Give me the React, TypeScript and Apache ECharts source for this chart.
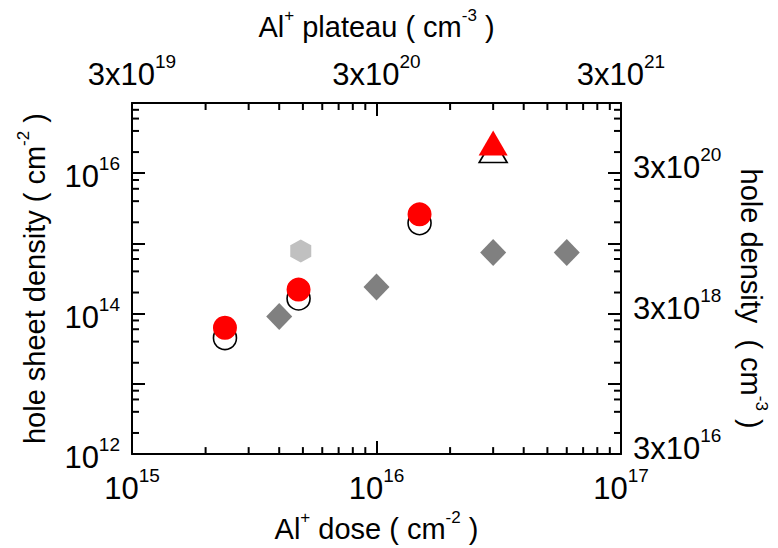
import React, { useEffect, useRef } from 'react';
import * as echarts from 'echarts';

const FONT = '"Liberation Sans", Arial, Helvetica, sans-serif';

// Axis ranges
const DOSE_MIN = 1e15;
const DOSE_MAX = 1e17;
const SHEET_MIN = 1e12;
const SHEET_MAX = 1e17;
// plateau (cm^-3) = dose (cm^-2) x 3x10^4 ; hole density = sheet density x 3x10^4
const CONVERSION = 3e4;

// Data
const openCircleDose = [2.4e15, 4.8e15, 1.5e16];
const openCircleSheet = [4.5e13, 1.65e14, 1.95e15];
const redCircleDose = [2.4e15, 4.8e15, 1.5e16];
const redCircleSheet = [6.3e13, 2.2e14, 2.6e15];
const openTriangleDose = [3e16];
const openTriangleSheet = [2.1e16];
const redTriangleDose = [3e16];
const redTriangleSheet = [2.7e16];
const diamondDose = [4e15, 1e16, 3e16, 6e16];
const diamondSheet = [9.1e13, 2.4e14, 7.4e14, 7.4e14];
const hexagonDose = [4.9e15];
const hexagonSheet = [7.8e14];

// Minor tick values
const xMinorTicks = [
  2e15, 3e15, 4e15, 5e15, 6e15, 7e15, 8e15, 9e15,
  2e16, 3e16, 4e16, 5e16, 6e16, 7e16, 8e16, 9e16,
];
const yMinorTicks = [
  2e12, 4e12, 6e12, 8e12,
  2e13, 4e13, 6e13, 8e13,
  2e14, 4e14, 6e14, 8e14,
  2e15, 4e15, 6e15, 8e15,
  2e16, 4e16, 6e16, 8e16,
];

const zip = (a: number[], b: number[]) => a.map((v, i) => [v, b[i]]);

const tickRich = {
  b: { fontFamily: FONT, fontSize: 31, color: '#000', lineHeight: 38, verticalAlign: 'bottom' },
  s: { fontFamily: FONT, fontSize: 19, color: '#000', lineHeight: 14, verticalAlign: 'top' },
};
const nameRich = {
  b: { fontFamily: FONT, fontSize: 29, color: '#000', lineHeight: 34, verticalAlign: 'bottom' },
  s: { fontFamily: FONT, fontSize: 17, color: '#000', lineHeight: 18, verticalAlign: 'top' },
};

const expOf = (v: number) => Math.floor(Math.log10(v) + 1e-9);

const powerLabel = (v: number) => `{b|10}{s|${expOf(v)}}`;
const convertedLabel = (v: number) => {
  const c = v * CONVERSION;
  const e = expOf(c);
  const m = Math.round(c / Math.pow(10, e));
  return `{b|${m}x10}{s|${e}}`;
};

const MAJOR_LEN = 13;
const MINOR_LEN = 7;
const LINE_W = 2;

export default function App() {
  const ref = useRef<HTMLDivElement>(null);

  useEffect(() => {
    if (!ref.current) return;
    const chart = echarts.init(ref.current, undefined, { renderer: 'svg' });

    const axisLine = { show: true, lineStyle: { color: '#000', width: LINE_W } };
    const axisTick = { show: true, inside: true, length: MAJOR_LEN, lineStyle: { color: '#000', width: LINE_W } };

    const scatterBase = { type: 'scatter', xAxisIndex: 0, yAxisIndex: 0, silent: true };

    const option: any = {
      animation: false,
      backgroundColor: '#fff',
      grid: { left: 132, right: 156, top: 103, bottom: 88, containLabel: false },
      xAxis: [
        {
          type: 'log',
          position: 'bottom',
          min: DOSE_MIN,
          max: DOSE_MAX,
          logBase: 10,
          axisLine,
          axisTick,
          splitLine: { show: false },
          minorTick: { show: false },
          axisLabel: {
            margin: 12,
            showMinLabel: true,
            showMaxLabel: true,
            formatter: (v: number) => powerLabel(v),
            rich: tickRich,
          },
          name: '{b|Al}{s|+}{b| dose ( cm}{s|-2}{b| )}',
          nameLocation: 'middle',
          nameGap: 48,
          nameTextStyle: { rich: nameRich },
        },
        {
          type: 'log',
          position: 'top',
          min: DOSE_MIN,
          max: DOSE_MAX,
          logBase: 10,
          axisLine,
          axisTick,
          splitLine: { show: false },
          axisLabel: {
            margin: 13,
            showMinLabel: true,
            showMaxLabel: true,
            formatter: (v: number) => convertedLabel(v),
            rich: tickRich,
          },
          name: '{b|Al}{s|+}{b| plateau ( cm}{s|-3}{b| )}',
          nameLocation: 'middle',
          nameGap: 62,
          nameTextStyle: { rich: nameRich },
        },
      ],
      yAxis: [
        {
          type: 'log',
          position: 'left',
          min: SHEET_MIN,
          max: SHEET_MAX,
          logBase: 10,
          axisLine,
          axisTick,
          splitLine: { show: false },
          axisLabel: {
            margin: 12,
            showMinLabel: true,
            showMaxLabel: true,
            formatter: (v: number) => (expOf(v) % 2 === 0 ? powerLabel(v) : ''),
            rich: tickRich,
          },
          name: '{b|hole sheet density ( cm}{s|-2}{b| )}',
          nameLocation: 'middle',
          nameRotate: 90,
          nameGap: 83,
          nameTextStyle: { rich: nameRich },
        },
        {
          type: 'log',
          position: 'right',
          min: SHEET_MIN,
          max: SHEET_MAX,
          logBase: 10,
          axisLine,
          axisTick,
          splitLine: { show: false },
          axisLabel: {
            margin: 12,
            showMinLabel: true,
            showMaxLabel: true,
            padding: [0, 0, 18, 0],
            formatter: (v: number) => (expOf(v) % 2 === 0 ? convertedLabel(v) : ''),
            rich: tickRich,
          },
          name: '{b|hole density  ( cm}{s|-3}{b| )}',
          nameLocation: 'middle',
          nameRotate: -90,
          nameGap: 115,
          nameTextStyle: { rich: nameRich, padding: [0, 0, 0, 40] },
        },
      ],
      series: [
        {
          type: 'custom',
          xAxisIndex: 0,
          yAxisIndex: 0,
          silent: true,
          clip: false,
          data: xMinorTicks.map((v) => [v, SHEET_MIN]),
          renderItem: (_p: any, api: any) => {
            const v = api.value(0);
            const b = api.coord([v, SHEET_MIN]);
            const t = api.coord([v, SHEET_MAX]);
            const st = { stroke: '#000', lineWidth: LINE_W };
            return {
              type: 'group',
              children: [
                { type: 'line', shape: { x1: b[0], y1: b[1], x2: b[0], y2: b[1] - MINOR_LEN }, style: st },
                { type: 'line', shape: { x1: t[0], y1: t[1], x2: t[0], y2: t[1] + MINOR_LEN }, style: st },
              ],
            };
          },
        },
        {
          type: 'custom',
          xAxisIndex: 0,
          yAxisIndex: 0,
          silent: true,
          clip: false,
          data: yMinorTicks.map((v) => [DOSE_MIN, v]),
          renderItem: (_p: any, api: any) => {
            const v = api.value(1);
            const l = api.coord([DOSE_MIN, v]);
            const r = api.coord([DOSE_MAX, v]);
            const st = { stroke: '#000', lineWidth: LINE_W };
            return {
              type: 'group',
              children: [
                { type: 'line', shape: { x1: l[0], y1: l[1], x2: l[0] + MINOR_LEN, y2: l[1] }, style: st },
                { type: 'line', shape: { x1: r[0], y1: r[1], x2: r[0] - MINOR_LEN, y2: r[1] }, style: st },
              ],
            };
          },
        },
        {
          ...scatterBase,
          name: 'hexagon',
          data: zip(hexagonDose, hexagonSheet),
          symbol: 'path://M0,-1L0.866,-0.5L0.866,0.5L0,1L-0.866,0.5L-0.866,-0.5Z',
          symbolSize: [21, 23],
          itemStyle: { color: '#c0c0c0', opacity: 1 },
        },
        {
          ...scatterBase,
          name: 'diamond',
          data: zip(diamondDose, diamondSheet),
          symbol: 'diamond',
          symbolSize: [26, 27],
          itemStyle: { color: '#808080', opacity: 1 },
        },
        {
          ...scatterBase,
          name: 'open circle',
          data: zip(openCircleDose, openCircleSheet),
          symbol: 'circle',
          symbolSize: 23,
          itemStyle: { color: 'rgba(255,255,255,0)', borderColor: '#000', borderWidth: 1.6, opacity: 1 },
        },
        {
          ...scatterBase,
          name: 'open triangle',
          data: zip(openTriangleDose, openTriangleSheet),
          symbol: 'triangle',
          symbolSize: [28, 24],
          itemStyle: { color: 'rgba(255,255,255,0)', borderColor: '#000', borderWidth: 1.6, opacity: 1 },
        },
        {
          ...scatterBase,
          name: 'red circle',
          data: zip(redCircleDose, redCircleSheet),
          symbol: 'circle',
          symbolSize: 24,
          itemStyle: { color: '#ff0000', opacity: 1 },
        },
        {
          ...scatterBase,
          name: 'red triangle',
          data: zip(redTriangleDose, redTriangleSheet),
          symbol: 'triangle',
          symbolSize: [29, 25],
          itemStyle: { color: '#ff0000', opacity: 1 },
        },
      ],
    };

    chart.setOption(option);
    return () => chart.dispose();
  }, []);

  return (
    <div
      ref={ref}
      style={{ position: 'fixed', left: 0, top: 0, width: 778, height: 548, background: '#fff' }}
    />
  );
}
